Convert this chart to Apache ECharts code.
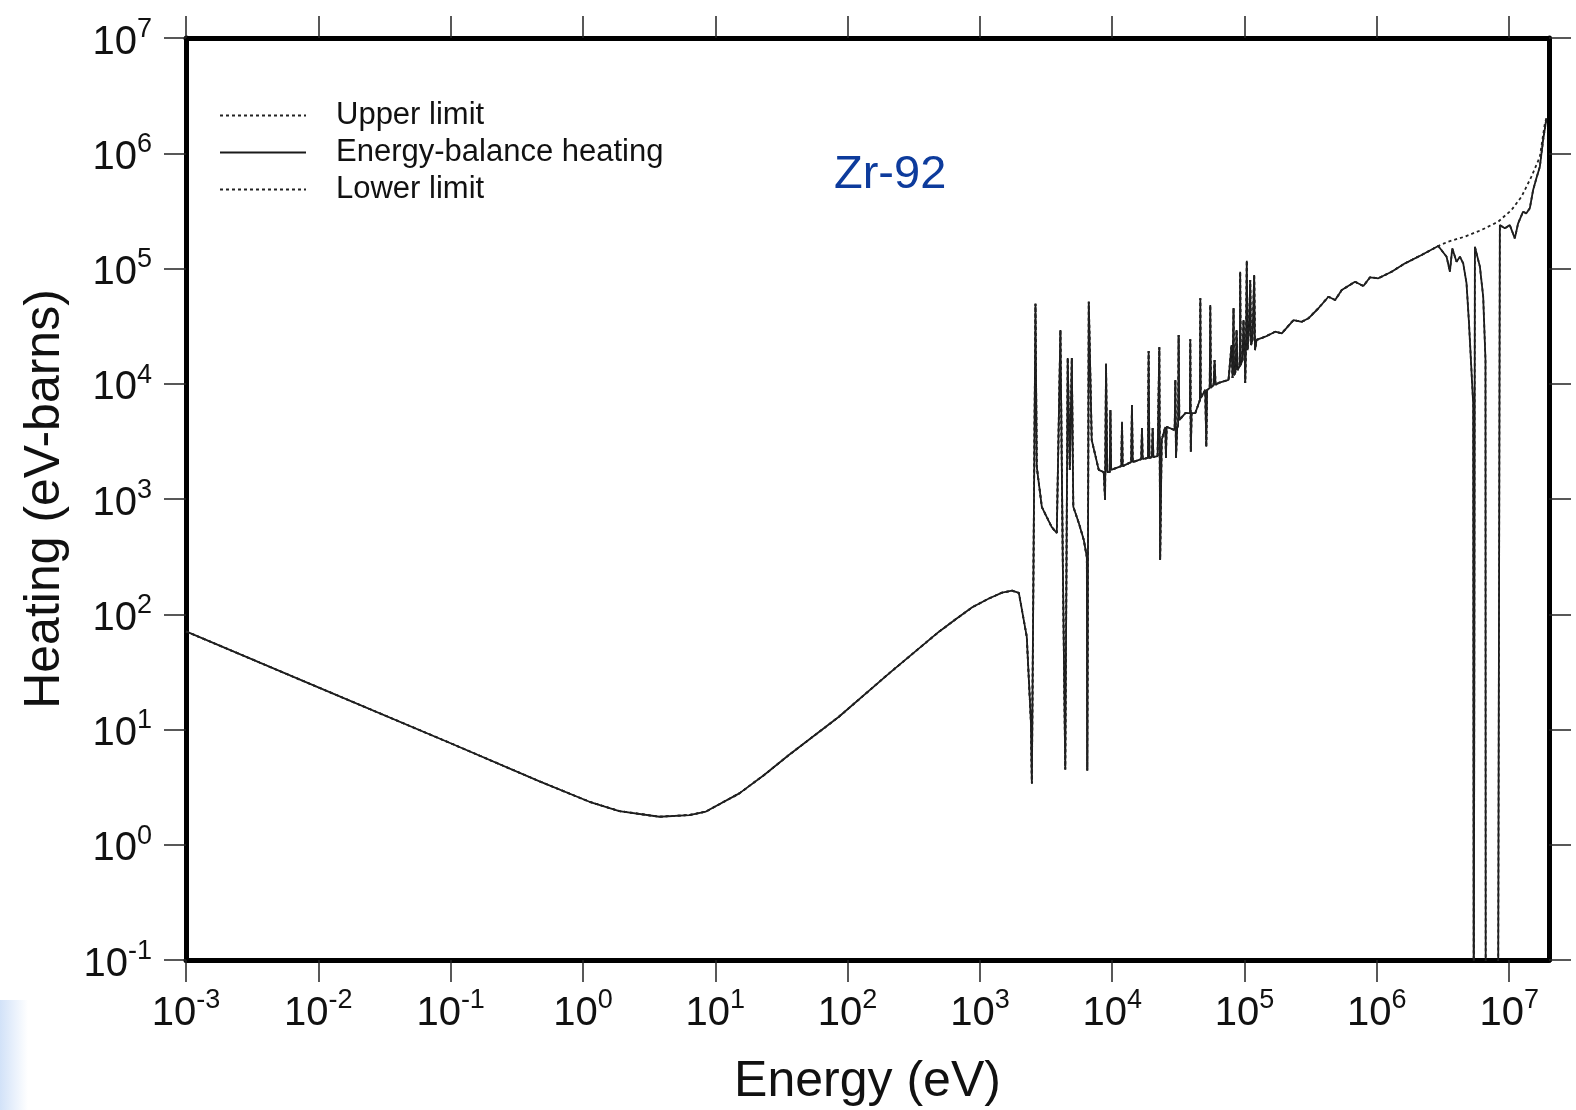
<!DOCTYPE html>
<html>
<head>
<meta charset="utf-8">
<title>Zr-92 heating</title>
<script src="https://cdn.jsdelivr.net/npm/echarts@6/dist/echarts.min.js"></script>
<style>
  html, body { margin: 0; padding: 0; background: #fff; }
  #chart { width: 1576px; height: 1110px; }
</style>
</head>
<body>
<div id="chart"></div>
<script>
// energy (eV) and heating (eV-barns), grouped by region
const energy = [
  // smooth 1/v part up to the first resonance
  0.001, 0.01, 0.1, 0.47, 1.12, 1.88, 3.78, 6.37, 8.5, 15.2, 23.4, 36, 86, 206, 491, 656, 875, 1170, 1472, 1750, 1970, 2260, 2427,
  // first resonances 2.4 - 8 keV
  2470, 2630, 2690, 2940, 3490, 3810, 4060, 4230, 4417, 4610, 4780, 4950, 5080, 5590, 6100, 6430, 6480, 6650, 7000, 7910,
  // 8 - 25 keV
  8630, 8830, 8980, 9170, 9570, 9690, 9820, 11700, 11860, 12000, 13900, 14100, 14290, 16560, 16790, 16980,
  18620, 18850, 19100, 19950, 20220, 20460, 22030, 22700, 23030, 23650,
  // 25 - 64 keV
  25200, 25470, 25780, 29640, 30000, 30340, 30970, 31480, 31770, 32140, 35700, 38640, 38900, 39260, 39810,
  42460, 46000, 46330, 46670, 50480, 51400, 52120, 54580, 55080, 55720, 58340, 59380, 60410, 63680,
  // 64 - 125 keV cluster
  75700, 78340, 79750, 81170, 82600, 83330, 85520, 87040, 88580, 92060, 92700, 93550, 96530,
  98240, 100500, 101200, 102600, 104000, 105400, 108100, 110400, 112000, 114900, 118300, 120000, 123300,
  // 0.14 - 3 MeV
  143300, 170500, 191400, 234600, 271000, 304300, 362000, 430600, 484000, 543000, 684000, 791000,
  888000, 1026000, 1294000, 1633000, 2178000, 2911000,
  // 3 - 20 MeV
  3365000, 3566000, 3715000, 4000000, 4245000, 4494000, 4761000, 4963000, 5346000, 5400000, 5480000,
  5508000, 6008000, 6363000, 6622000, 6650000, 8230000, 8505000, 9270000, 10110000, 11030000, 11690000,
  12740000, 13490000, 14320000, 15170000, 16060000, 17060000, 18060000, 19130000
];
const heating = [
  71, 23.2, 7.6, 3.55, 2.36, 1.96, 1.75, 1.81, 1.94, 2.79, 4.03, 6.0, 12.9, 30.7, 70.6, 90.4, 115, 137, 154, 160, 153, 64, 12,
  3.4, 49500, 1900, 851, 571, 507, 29200, 296, 4.5, 16700, 1790, 16700, 857, 620, 440, 314, 4.4, 51500, 3250, 1790,
  1710, 980, 15000, 1710, 1710, 5920, 1790, 1930, 4690, 1930, 2090, 6540, 2090, 2220, 4130, 2220,
  2270, 19200, 2270, 2310, 4130, 2310, 2360, 20700, 296, 3250,
  4220, 2270, 4220, 3970, 10790, 2270, 4130, 4390, 26500, 4840, 5570, 5570, 24300, 2570, 5570,
  5570, 7230, 55100, 7520, 8830, 2840, 8830, 9190, 48200, 9190, 9750, 16070, 9750, 10160,
  10790, 11220, 21700, 11220, 45400, 11910, 12650, 29240, 13150, 14260, 93800, 14550, 16070,
  35730, 16070, 10160, 21700, 117000, 19600, 29240, 79400, 21700, 23990, 87900, 19600, 23990,
  25600, 28300, 27400, 35700, 34500, 37000, 45200, 56900, 53300, 65000, 76700, 70400,
  83900, 82200, 93800, 110900, 131000, 156700,
  126500, 93800, 149600, 114600, 126500, 110900, 74500, 34500, 6760, 0.01, 0.01,
  154500, 103800, 56900, 16100, 0.01, 0.01, 238000, 223000, 238000, 182700, 246700,
  311000, 301000, 333000, 479600, 606000, 764000, 1303000, 2009000
];
// upper limit leaves the heating curve above ~2.9 MeV
const upperSplitEnergy = 2911000;
const upperTailEnergy = [3459000, 4624000, 6180000, 8260000, 10420000, 12400000, 14720000, 17060000, 18620000, 19130000];
const upperTailHeating = [171000, 189000, 216000, 254700, 322000, 420000, 626000, 933000, 1820000, 2009000];

// energy decades that carry a tick (no tick at the 2e7 axis end)
const energyTicks = [1e-3, 1e-2, 1e-1, 1, 10, 100, 1e3, 1e4, 1e5, 1e6, 1e7];

const legendNames = ['Upper limit', 'Energy-balance heating', 'Lower limit'];

const FONT = 'Liberation Sans';
const INK = '#111';

function pairs(xs, ys) {
  return xs.map((x, i) => [x, ys[i]]);
}
const heatingData = pairs(energy, heating);
const upperData = heatingData.filter(p => p[0] <= upperSplitEnergy)
  .concat(pairs(upperTailEnergy, upperTailHeating));

// only whole decades get a label, as 10 with a superscript power
function powLabel(v) {
  const p = Math.log10(v);
  const r = Math.round(p);
  if (Math.abs(p - r) > 1e-6) return '';
  return '{b|10}{e|' + r + '}';
}
const labelRich = {
  b: { fontFamily: FONT, fontSize: 40, color: INK },
  e: { fontFamily: FONT, fontSize: 27, color: INK, padding: [0, 0, 26, 0] }
};

function frameAxis(pos, extra) {
  return Object.assign({
    type: 'log',
    logBase: 10,
    position: pos,
    axisLine: { show: true, onZero: false, lineStyle: { color: '#000', width: 5 } },
    axisTick: { show: true, inside: false, length: 22, lineStyle: { color: '#222', width: 1.5 } },
    axisLabel: { show: false },
    splitLine: { show: false },
    minorTick: { show: false }
  }, extra);
}
const energyTick = { show: true, inside: false, length: 22, customValues: energyTicks, lineStyle: { color: '#222', width: 1.5 } };

const chart = echarts.init(document.getElementById('chart'));
chart.setOption({
  backgroundColor: '#fff',
  animation: false,
  title: {
    text: 'Zr-92',
    left: 829,
    top: 147,
    textStyle: { fontFamily: FONT, fontSize: 47, fontWeight: 'normal', color: '#0d3b9c' }
  },
  legend: {
    data: legendNames,
    orient: 'vertical',
    left: 214,
    top: 95,
    itemWidth: 86,
    itemHeight: 14,
    itemGap: 6,
    itemStyle: { color: 'rgba(0,0,0,0)', borderWidth: 0 },
    textStyle: { fontFamily: FONT, fontSize: 31, color: INK, padding: [0, 0, 0, 25] }
  },
  grid: { left: 186, right: 27, top: 38, bottom: 150, containLabel: false, outerBoundsMode: 'none' },
  xAxis: [
    frameAxis('bottom', {
      min: 0.001, max: 2e7, interval: 1,
      name: 'Energy (eV)',
      nameLocation: 'middle',
      nameGap: 97,
      nameTextStyle: { fontFamily: FONT, fontSize: 50, color: INK },
      axisTick: energyTick,
      axisLabel: { show: true, margin: 27, formatter: powLabel, rich: labelRich }
    }),
    frameAxis('top', { min: 0.001, max: 2e7, interval: 1, axisTick: energyTick })
  ],
  yAxis: [
    frameAxis('left', {
      min: 0.1, max: 1e7, interval: 1,
      name: 'Heating (eV-barns)',
      nameLocation: 'middle',
      nameGap: 116,
      nameTextStyle: { fontFamily: FONT, fontSize: 50, color: INK },
      axisLabel: { show: true, margin: 34, padding: [9, 0, 0, 0], formatter: powLabel, rich: labelRich }
    }),
    frameAxis('right', { min: 0.1, max: 1e7, interval: 1 })
  ],
  graphic: [{
    type: 'rect',
    left: 0, top: 1000,
    shape: { width: 28, height: 110 },
    style: {
      fill: new echarts.graphic.LinearGradient(0, 0, 1, 0, [
        { offset: 0, color: '#d2e2f8' },
        { offset: 1, color: '#ffffff' }
      ])
    },
    z: -1
  }],
  series: [
    {
      name: 'Energy-balance heating',
      type: 'line',
      data: heatingData,
      showSymbol: false,
      symbol: 'none',
      lineStyle: { color: '#1a1a1a', width: 1.8, type: 'solid' }
    },
    {
      name: 'Upper limit',
      type: 'line',
      data: upperData,
      showSymbol: false,
      symbol: 'none',
      lineStyle: { color: '#222', width: 1.8, type: [3, 3] }
    },
    {
      name: 'Lower limit',
      type: 'line',
      data: heatingData,
      showSymbol: false,
      symbol: 'none',
      lineStyle: { color: '#222', width: 1.8, type: [3, 3] }
    }
  ]
});
window.addEventListener('resize', () => chart.resize());
</script>
</body>
</html>
